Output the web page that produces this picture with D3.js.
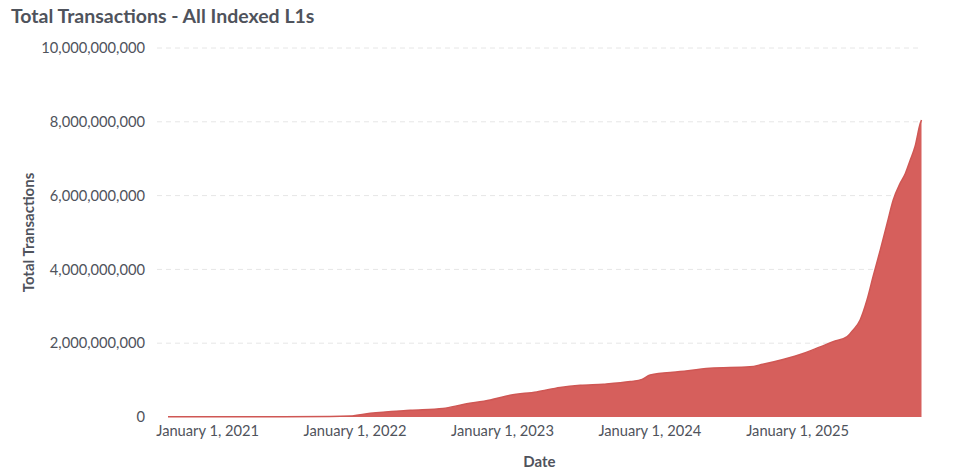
<!DOCTYPE html>
<html><head><meta charset="utf-8">
<script src="https://cdn.jsdelivr.net/npm/d3@7"></script>
<style>
html,body{margin:0;padding:0;background:#fff;}
svg{display:block;font-family:Lato,"Open Sans",sans-serif;}
</style></head>
<body>
<svg id="chart" width="959" height="476"></svg>
<script>
const chartTitle = "Total Transactions - All Indexed L1s";
const xAxisTitle = "Date";
const yAxisTitle = "Total Transactions";
const dates = ["2020-09-26","2021-06-01","2021-11-01","2021-12-21","2022-02-09","2022-05-19","2022-08-08","2022-09-27","2022-12-03","2023-01-21","2023-03-28","2023-05-25","2023-07-14","2023-09-09","2023-11-15","2023-12-14","2024-01-03","2024-03-17","2024-05-30","2024-09-06","2024-10-08","2024-11-27","2025-01-16","2025-02-27","2025-03-31","2025-05-05","2025-05-20","2025-06-06","2025-06-23","2025-07-08","2025-07-26","2025-08-12","2025-08-27","2025-09-13","2025-09-26","2025-10-08","2025-10-20","2025-11-02","2025-11-05"];
const totals = [5e6,8e6,1.2e7,2.5e7,1.0e8,1.8e8,2.3e8,3.4e8,4.6e8,5.9e8,6.8e8,8.0e8,8.6e8,8.9e8,9.6e8,1.02e9,1.14e9,1.23e9,1.32e9,1.36e9,1.43e9,1.56e9,1.72e9,1.90e9,2.04e9,2.18e9,2.36e9,2.63e9,3.17e9,3.80e9,4.53e9,5.25e9,5.88e9,6.33e9,6.60e9,6.96e9,7.33e9,7.96e9,8.05e9];
const yTicks = [0,2e9,4e9,6e9,8e9,10e9];
const xTicks = ["2021-01-01","2022-01-01","2023-01-01","2024-01-01","2025-01-01"];

const parse = d3.utcParse("%Y-%m-%d");
const data = dates.map((d,i)=>({date:parse(d), value:totals[i]}));

const svg = d3.select("#chart");
const plotLeft = 157, plotRight = 922, plotTop = 48, plotBottom = 417;
const textColor = "#4f535c";
const fill = "#d65f5c";

const x = d3.scaleUtc().domain(d3.extent(data,d=>d.date)).range([168, 921.5]);
const y = d3.scaleLinear().domain([0,10e9]).range([plotBottom, plotTop]);

// title
svg.append("text").attr("x",11).attr("y",23)
  .attr("font-size",19.5).attr("font-weight",700).attr("fill",textColor)
  .text(chartTitle);

// grid
svg.append("g").selectAll("line").data(yTicks.filter(t=>t>0)).join("line")
  .attr("x1",plotLeft).attr("x2",plotRight)
  .attr("y1",d=>y(d)).attr("y2",d=>y(d))
  .attr("stroke","#e6e6e6").attr("stroke-width",1).attr("stroke-dasharray","5,4");

// area
const area = d3.area().x(d=>x(d.date)).y0(y(0)).y1(d=>y(d.value)).curve(d3.curveMonotoneX);
svg.append("path").datum(data).attr("d",area).attr("fill",fill);
const line = d3.line().x(d=>x(d.date)).y(d=>y(d.value)).curve(d3.curveMonotoneX);
svg.append("path").datum(data).attr("d",line).attr("fill","none").attr("stroke","#cf5754").attr("stroke-width",1.5);

// y axis
const yAxis = d3.axisLeft(y).tickValues(yTicks).tickFormat(d3.format(",")).tickSize(0).tickPadding(0);
const gy = svg.append("g").attr("transform",`translate(${plotLeft-12},0)`).call(yAxis);
gy.select(".domain").remove();
gy.selectAll("text").attr("font-size",14.7).attr("fill",textColor).attr("font-family","Lato");

// x axis
const xAxis = d3.axisBottom(x).tickValues(xTicks.map(parse)).tickFormat(d3.utcFormat("%B %-d, %Y")).tickSize(0).tickPadding(0);
const gx = svg.append("g").attr("transform",`translate(0,${plotBottom+9})`).call(xAxis);
gx.select(".domain").remove();
gx.selectAll("text").attr("font-size",14.7).attr("fill",textColor).attr("font-family","Lato");

// axis titles
svg.append("text").attr("x",(plotLeft+plotRight)/2).attr("y",467).attr("text-anchor","middle")
  .attr("font-size",15).attr("font-weight",700).attr("fill",textColor).text(xAxisTitle);
svg.append("text").attr("transform",`translate(34,${(plotTop+plotBottom)/2}) rotate(-90)`)
  .attr("text-anchor","middle").attr("font-size",15).attr("font-weight",700).attr("fill",textColor).text(yAxisTitle);
</script>
</body></html>
